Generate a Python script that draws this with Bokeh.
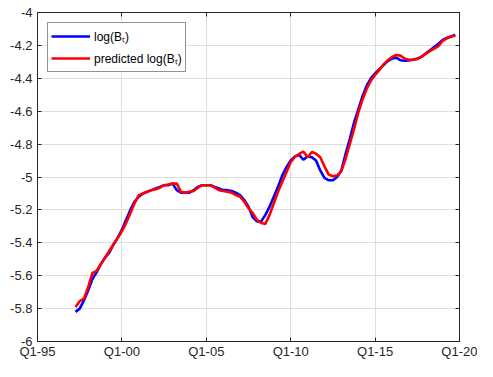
from bokeh.plotting import figure
from bokeh.models import FixedTicker, LinearAxis, NumeralTickFormatter, Range1d, Legend, LegendItem
from bokeh.embed import file_html
from bokeh.resources import INLINE

# quarterly dates (fractional years) from Q2-97 to Q4-19
quarters = [1997.25 + 0.25 * i for i in range(91)]

log_b = [
    -5.82, -5.80, -5.75, -5.69, -5.62, -5.58, -5.53, -5.49, -5.46, -5.41,
    -5.37, -5.32, -5.26, -5.20, -5.15, -5.12, -5.10, -5.09, -5.08, -5.07,
    -5.06, -5.05, -5.05, -5.04, -5.08, -5.095, -5.095, -5.095, -5.08, -5.06,
    -5.05, -5.05, -5.05, -5.06, -5.07, -5.08, -5.08, -5.085, -5.095, -5.11,
    -5.14, -5.18, -5.245, -5.27, -5.27, -5.23, -5.18, -5.12, -5.06, -4.99,
    -4.94, -4.90, -4.875, -4.865, -4.895, -4.875, -4.88, -4.90, -4.96, -5.005,
    -5.02, -5.02, -5.00, -4.96, -4.86, -4.77, -4.67, -4.59, -4.51, -4.445,
    -4.40, -4.37, -4.345, -4.32, -4.295, -4.28, -4.275, -4.29, -4.293, -4.291,
    -4.287, -4.28, -4.268, -4.25, -4.23, -4.21, -4.19, -4.167, -4.155, -4.145,
    -4.135,
]

pred_log_b = [
    -5.79, -5.755, -5.74, -5.67, -5.585, -5.57, -5.53, -5.49, -5.45, -5.41,
    -5.37, -5.33, -5.28, -5.22, -5.16, -5.11, -5.10, -5.09, -5.08, -5.075,
    -5.065, -5.05, -5.045, -5.04, -5.04, -5.09, -5.095, -5.09, -5.085, -5.065,
    -5.05, -5.05, -5.05, -5.065, -5.08, -5.085, -5.09, -5.095, -5.11, -5.12,
    -5.15, -5.19, -5.22, -5.26, -5.28, -5.285, -5.23, -5.16, -5.09, -5.03,
    -4.97, -4.91, -4.877, -4.86, -4.845, -4.88, -4.848, -4.858, -4.88, -4.935,
    -4.985, -4.995, -4.99, -4.965, -4.89, -4.80, -4.71, -4.61, -4.53, -4.465,
    -4.415, -4.38, -4.35, -4.315, -4.29, -4.27, -4.258, -4.262, -4.28, -4.287,
    -4.287, -4.283, -4.27, -4.25, -4.235, -4.22, -4.205, -4.172, -4.157, -4.148,
    -4.14,
]

x_ticks = [1995, 2000, 2005, 2010, 2015, 2020]
x_tick_labels = ["Q1-95", "Q1-00", "Q1-05", "Q1-10", "Q1-15", "Q1-20"]
y_ticks = [-6.0, -5.8, -5.6, -5.4, -5.2, -5.0, -4.8, -4.6, -4.4, -4.2, -4.0]

AX = "#262626"
FONT = "Liberation Sans"

p = figure(width=477, height=361, output_backend="svg", toolbar_location=None,
           x_range=Range1d(1995, 2020), y_range=Range1d(-6, -4),
           min_border_left=37, min_border_right=18, min_border_top=12, min_border_bottom=17)
p.background_fill_color = "white"
p.border_fill_color = "white"
p.outline_line_color = AX
p.outline_line_width = 1

for ax in p.xaxis:
    ax.ticker = FixedTicker(ticks=x_ticks)
    ax.major_label_overrides = {t: l for t, l in zip(x_ticks, x_tick_labels)}
for ax in p.yaxis:
    ax.ticker = FixedTicker(ticks=y_ticks)
    ax.formatter = NumeralTickFormatter(format="0.[0]")

for ax in list(p.xaxis) + list(p.yaxis):
    ax.axis_line_color = AX
    ax.major_tick_line_color = AX
    ax.major_tick_in = 4
    ax.major_tick_out = 0
    ax.minor_tick_line_color = None
    ax.major_label_text_font = FONT
    ax.major_label_text_font_size = "13px"
    ax.major_label_text_color = AX
p.xaxis.major_label_standoff = 2
p.yaxis.major_label_standoff = 5

# box ticks on top and right (no labels)
top = LinearAxis(ticker=FixedTicker(ticks=x_ticks), major_label_text_font_size="0px",
                 major_label_text_color=None,
                 major_label_standoff=0, major_tick_in=4, major_tick_out=0,
                 minor_tick_line_color=None, axis_line_color=AX, major_tick_line_color=AX)
right = LinearAxis(ticker=FixedTicker(ticks=y_ticks), major_label_text_font_size="0px",
                   major_label_text_color=None,
                   major_label_standoff=0, major_tick_in=4, major_tick_out=0,
                   minor_tick_line_color=None, axis_line_color=AX, major_tick_line_color=AX)
p.add_layout(top, "above")
p.add_layout(right, "right")

p.xgrid.ticker = FixedTicker(ticks=x_ticks)
p.ygrid.ticker = FixedTicker(ticks=y_ticks)
p.grid.grid_line_color = "#dedede"
p.grid.grid_line_width = 1

r1 = p.line(quarters, log_b, line_color="#0000ff", line_width=2.6)
r2 = p.line(quarters, pred_log_b, line_color="#ff0000", line_width=2.6)

legend = Legend(items=[LegendItem(label="log(B\u209c)", renderers=[r1]),
                       LegendItem(label="predicted log(B\u209c)", renderers=[r2])],
                location="top_left", margin=10, padding=3, spacing=2,
                glyph_width=39, glyph_height=20, label_height=20, label_standoff=4,
                label_text_font=FONT, label_text_font_size="12px", label_text_color="black",
                border_line_color=AX, border_line_width=1, background_fill_alpha=1)
p.add_layout(legend)

open("out.html", "w").write(file_html(p, INLINE))
